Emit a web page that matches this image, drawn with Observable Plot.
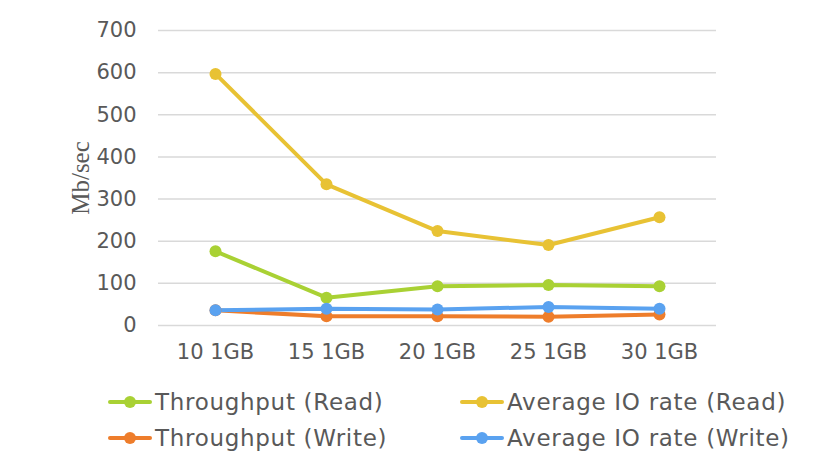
<!DOCTYPE html>
<html>
<head>
<meta charset="utf-8">
<script src="https://cdn.jsdelivr.net/npm/d3@7"></script>
<script src="https://cdn.jsdelivr.net/npm/@observablehq/plot@0.6"></script>
<style>
  body { margin: 0; background: #fff; width: 840px; height: 474px; overflow: hidden; }
  #chart { position: relative; }
  .legend { position: absolute; left: 0; top: 0; font-family: "DejaVu Sans", sans-serif; font-size: 23px; letter-spacing: 0.7px; color: #595959; }
  .item { position: absolute; display: flex; align-items: center; white-space: nowrap; }
  .sw { position: relative; width: 44px; height: 12px; margin-right: 3px; }
  .sw .ln { position: absolute; left: 0; right: 0; top: 4px; height: 4px; border-radius: 2px; }
  .sw .dt { position: absolute; left: 16px; top: 0; width: 12px; height: 12px; border-radius: 50%; }
</style>
</head>
<body>
<div id="chart"></div>
<script>
const categories = ["10 1GB", "15 1GB", "20 1GB", "25 1GB", "30 1GB"];
const throughputRead = [176, 66, 93, 96, 93];
const avgIORead = [597, 335, 224, 191, 257];
const throughputWrite = [36, 22, 22, 21, 26];
const avgIOWrite = [36, 40, 38, 44, 40];
const yTicks = [0, 100, 200, 300, 400, 500, 600, 700];

const seriesNames = ["Throughput (Read)", "Average IO rate (Read)", "Throughput (Write)", "Average IO rate (Write)"];
const seriesValues = [throughputRead, avgIORead, throughputWrite, avgIOWrite];
const colors = ["#a9d134", "#e8c234", "#ee7d2b", "#5aa2f0"];

const rows = [];
seriesNames.forEach((s, i) => categories.forEach((c, j) => rows.push({series: s, cat: c, value: seriesValues[i][j]})));

const font = '"DejaVu Sans", sans-serif';

const plot = Plot.plot({
  width: 840,
  height: 372,
  marginTop: 30,
  marginBottom: 47,
  marginLeft: 158,
  marginRight: 124,
  style: { fontFamily: font, fontSize: "21px", color: "#595959", background: "#fff" },
  x: { type: "point", domain: categories, padding: 0.5, label: null, tickSize: 0, tickPadding: 19 },
  y: { domain: [0, 700], ticks: yTicks, label: null, tickSize: 0, tickPadding: 22 },
  color: { domain: seriesNames, range: colors },
  marks: [
    Plot.ruleY(yTicks, { stroke: "#d9d9d9", strokeWidth: 1.5, strokeOpacity: 1 }),
    Plot.lineY(rows, { x: "cat", y: "value", z: "series", stroke: "series", strokeWidth: 4 }),
    Plot.dot(rows, { x: "cat", y: "value", fill: "series", r: 6 }),
    Plot.text(["Mb/sec"], { frameAnchor: "left", textAnchor: "middle", dx: -78, rotate: -90, fontFamily: '"Liberation Serif", serif', fontSize: 25, fill: "#595959" })
  ]
});

const chart = document.getElementById("chart");
chart.appendChild(plot);

const legend = document.createElement("div");
legend.className = "legend";
const pos = [[108, 402], [460, 402], [108, 438], [460, 438]];
seriesNames.forEach((s, i) => {
  const it = document.createElement("div");
  it.className = "item";
  it.style.left = pos[i][0] + "px";
  it.style.top = (pos[i][1] - 14) + "px";
  it.style.height = "28px";
  it.innerHTML = `<div class="sw"><div class="ln" style="background:${colors[i]}"></div><div class="dt" style="background:${colors[i]}"></div></div><span>${s}</span>`;
  legend.appendChild(it);
});
chart.appendChild(legend);
</script>
</body>
</html>
